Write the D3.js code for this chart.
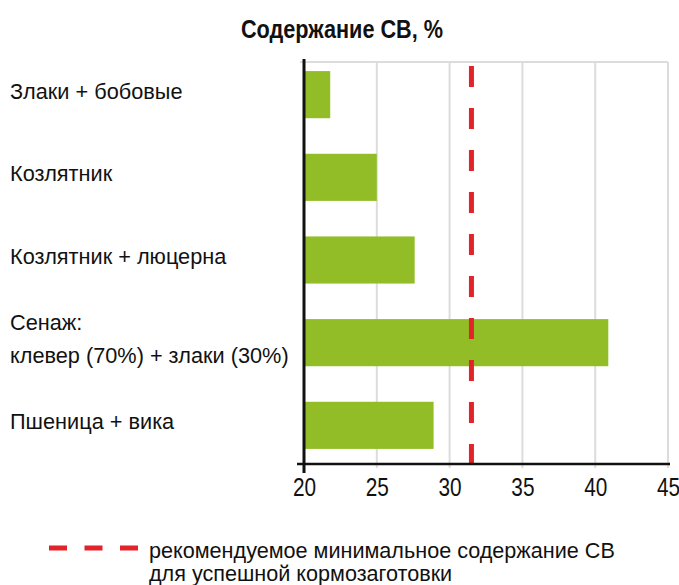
<!DOCTYPE html>
<meta charset="utf-8">
<script src="https://d3js.org/d3.v7.min.js"></script>
<style>
  body { margin: 0; background: #fff; }
  text { font-family: "Liberation Sans", Arial, sans-serif; fill: #111; }
</style>
<div id="chart"></div>
<script>
// data
var categories = [
  ["Злаки + бобовые"],
  ["Козлятник"],
  ["Козлятник + люцерна"],
  ["Сенаж:", "клевер (70%) + злаки (30%)"],
  ["Пшеница + вика"]
];
var values = [21.8, 25.0, 27.6, 40.9, 28.9];
var xTicks = [20, 25, 30, 35, 40, 45];
var threshold = 31.5;
var title = "Содержание СВ, %";
var legendLines = ["рекомендуемое минимальное содержание СВ", "для успешной кормозаготовки"];

var width = 679, height = 585;
var mLeft = 304, mRight = 668, mTop = 62, mBottom = 464;

// narrow the glyphs (reference uses a condensed face)
function condense(sel, k) {
  sel.each(function () {
    var w = this.getComputedTextLength();
    d3.select(this).attr("textLength", w * k).attr("lengthAdjust", "spacingAndGlyphs");
  });
}

var svg = d3.select("#chart").append("svg")
  .attr("width", width)
  .attr("height", height);

var x = d3.scaleLinear().domain([20, 45]).range([mLeft, mRight]);
var y = d3.scaleBand()
  .domain(d3.range(values.length))
  .range([mTop, mBottom - 6])
  .paddingInner(0.43)
  .paddingOuter(0.11);

// title
svg.append("text")
  .attr("x", 342).attr("y", 38)
  .attr("text-anchor", "middle")
  .style("font-size", "25.5px")
  .style("font-weight", "bold")
  .text(title)
  .call(condense, 0.85);

// grid
svg.append("line")
  .attr("x1", mLeft - 4).attr("x2", mRight)
  .attr("y1", mTop).attr("y2", mTop)
  .attr("stroke", "#dcdcdc").attr("stroke-width", 2);
svg.selectAll(".grid")
  .data(xTicks.slice(1))
  .enter().append("line")
  .attr("x1", d => x(d)).attr("x2", d => x(d))
  .attr("y1", mTop).attr("y2", mBottom + 4)
  .attr("stroke", "#dcdcdc").attr("stroke-width", 2);

// bars
svg.selectAll(".bar")
  .data(values)
  .enter().append("rect")
  .attr("x", x(20))
  .attr("y", (d, i) => y(i))
  .attr("width", d => x(d) - x(20))
  .attr("height", y.bandwidth())
  .attr("fill", "#92bd27");

// threshold line
svg.append("line")
  .attr("x1", x(threshold)).attr("x2", x(threshold))
  .attr("y1", mTop + 4).attr("y2", mBottom)
  .attr("stroke", "#e2232a").attr("stroke-width", 5)
  .attr("stroke-dasharray", "21,21");

// axes
var xAxis = svg.append("g")
  .attr("transform", "translate(0," + mBottom + ")")
  .call(d3.axisBottom(x).tickValues(xTicks).tickSize(0).tickPadding(14));
xAxis.select(".domain").remove();
xAxis.selectAll("text")
  .style("font-size", "26px")
  .style("font-family", "\"Liberation Sans\", Arial, sans-serif")
  .attr("fill", "#111")
  .call(condense, 0.8);
svg.append("line")
  .attr("x1", mLeft - 7).attr("x2", mRight + 2)
  .attr("y1", mBottom).attr("y2", mBottom)
  .attr("stroke", "#111").attr("stroke-width", 2.5);
svg.append("line")
  .attr("x1", mLeft).attr("x2", mLeft)
  .attr("y1", mTop - 3).attr("y2", mBottom + 9)
  .attr("stroke", "#111").attr("stroke-width", 3);

// category labels
var labels = svg.selectAll(".lab")
  .data(categories)
  .enter().append("text")
  .attr("x", 10)
  .attr("y", (d, i) => y(i) + y.bandwidth() / 2)
  .style("font-size", "22.5px");
labels.selectAll("tspan")
  .data(d => d.map((t, j) => ({ t: t, j: j, n: d.length })))
  .enter().append("tspan")
  .attr("x", 10)
  .attr("dy", d => d.j === 0 ? (4 - (d.n - 1) * 16.5) + "px" : "33px")
  .text(d => d.t)
  .call(condense, 0.965);

// legend
var lg = svg.append("g").attr("transform", "translate(49,548)");
lg.append("line")
  .attr("x1", 0).attr("x2", 89)
  .attr("y1", 0).attr("y2", 0)
  .attr("stroke", "#e2232a").attr("stroke-width", 5)
  .attr("stroke-dasharray", "18,17.5");
lg.selectAll("text")
  .data(legendLines)
  .enter().append("text")
  .attr("x", 100)
  .attr("y", (d, i) => 10 + i * 23)
  .style("font-size", "22.5px")
  .text(d => d)
  .call(condense, 0.96);
</script>
